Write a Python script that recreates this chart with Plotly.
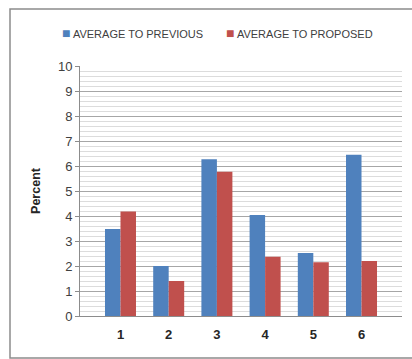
import plotly.graph_objects as go

categories = [1, 2, 3, 4, 5, 6]
tick_labels = ["1", "2", "3", "4", "5", "6"]
series_names = ["AVERAGE TO PREVIOUS", "AVERAGE TO PROPOSED"]
series_colors = ["#4F81BD", "#C0504D"]
avg_previous = [3.48, 2.0, 6.27, 4.04, 2.52, 6.45]
avg_proposed = [4.18, 1.4, 5.77, 2.37, 2.15, 2.2]

FONT = "Liberation Sans"
TXT = "#404040"

fig = go.Figure()
for name, vals, col in zip(series_names, [avg_previous, avg_proposed], series_colors):
    fig.add_trace(go.Bar(x=categories, y=vals, name=name,
                         marker=dict(color=col, line=dict(width=0))))

# plot area: x 80..402, y 66..316 in a 412x359 page
L, R, T, B = 80, 10, 66, 43
W, H = 412 - L - R, 359 - T - B

def px(x):
    return (x - L) / W

def py(y):
    return (359 - B - y) / H

fig.update_layout(
    width=412, height=359,
    margin=dict(l=L, r=R, t=T, b=B),
    paper_bgcolor="white", plot_bgcolor="white",
    barmode="group", bargap=0.357, bargroupgap=0,
    font=dict(family=FONT, color=TXT, size=12),
    showlegend=False,
    xaxis=dict(range=[0.16, 6.84], tickmode="array", tickvals=categories,
               ticktext=["<b>%s</b>" % t for t in tick_labels],
               tickfont=dict(size=13, color="#262626"), showgrid=False,
               showline=True, linecolor="#8c8c8c", linewidth=1, ticks="",
               zeroline=False, ticklabelstandoff=6),
    yaxis=dict(range=[0, 10], dtick=1, tick0=0, showgrid=True, gridcolor="#a6a6a6",
               gridwidth=1, showline=True, linecolor="#8c8c8c", linewidth=1,
               ticks="outside", ticklen=4, tickcolor="#8c8c8c",
               tickfont=dict(size=13, color=TXT), zeroline=False,
               minor=dict(dtick=0.2, showgrid=True, gridcolor="#dcdcdc", gridwidth=1),
               title=dict(text="<b>Percent</b>", font=dict(size=12.5, color="#262626"),
                          standoff=14)),
)

# legend row at the top (built from the series names / colours)
for name, col, xl in zip(series_names, series_colors, [60, 224]):
    fig.add_annotation(xref="paper", yref="paper", x=px(xl), y=py(33),
                       xanchor="left", yanchor="middle", showarrow=False,
                       text="<span style='color:%s;font-size:14px'>■</span> %s" % (col, name),
                       font=dict(family=FONT, size=11, color=TXT))

fig.add_shape(type="rect", xref="paper", yref="paper",
              x0=px(10), x1=px(413), y0=py(358), y1=py(9),
              line=dict(color="#8c8c8c", width=1.5), fillcolor="rgba(0,0,0,0)",
              layer="below")

fig.write_html("out.html")
